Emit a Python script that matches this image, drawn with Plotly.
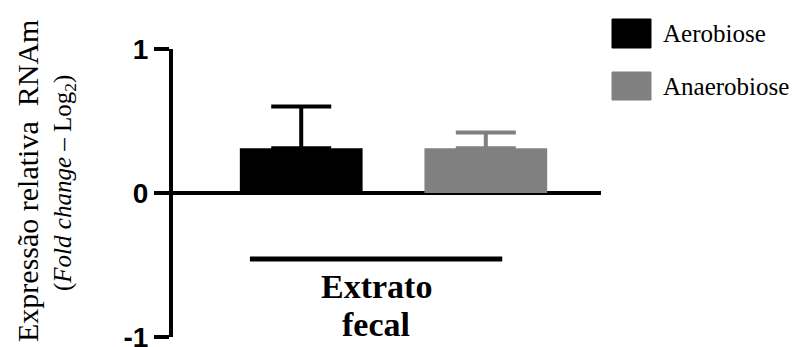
import plotly.graph_objects as go

# Relative mRNA expression (log2 fold change) in fecal extract
group_label = "Extrato fecal"
conditions = ["Aerobiose", "Anaerobiose"]
means = [0.31, 0.31]
errors_up = [0.29, 0.11]
colors = ["#000000", "#808080"]
y_ticks = [-1, 0, 1]

W, H = 794, 347
SERIF = "Times New Roman"
SANS = "Arial"

# bar slots along the numeric x axis
slots = [1, 2]
bar_width = 0.665

fig = go.Figure()
for slot, name, m, e, c in zip(slots, conditions, means, errors_up, colors):
    fig.add_trace(go.Bar(
        x=[slot], y=[m], name=name, width=bar_width,
        marker=dict(color=c, line=dict(width=0)),
        error_y=dict(type="data", symmetric=False, array=[e], arrayminus=[0],
                     color=c, thickness=4, width=30),
        showlegend=False,
    ))

def px_x(p):
    return p / W

def px_y(p):
    return 1 - p / H

fig.update_layout(
    width=W, height=H,
    margin=dict(l=0, r=0, t=0, b=0, autoexpand=False),
    paper_bgcolor="white", plot_bgcolor="white",
    showlegend=False,
    xaxis=dict(domain=[px_x(173), px_x(601)], range=[0.3054, 2.624],
               showgrid=False, zeroline=False, showticklabels=False,
               ticks="", showline=False, fixedrange=True, automargin=False),
    yaxis=dict(domain=[px_y(337), px_y(49)], range=[-1, 1],
               showgrid=False, zeroline=True, zerolinecolor="black", zerolinewidth=4,
               showline=True, linecolor="black", linewidth=4,
               ticks="outside", ticklen=15, tickwidth=4, tickcolor="black",
               tickvals=y_ticks, ticktext=[f"<b>{v}</b>" for v in y_ticks],
               tickfont=dict(family=SANS, size=28, color="black"),
               ticklabeloverflow="allow",
               fixedrange=True, automargin=False),
)

# bracket under the group and its two-line label
left_edge = slots[0] - 0.278
right_edge = slots[1] + 0.089
fig.add_shape(type="line", xref="x", yref="y",
              x0=left_edge, x1=right_edge, y0=-0.458, y1=-0.458,
              line=dict(color="black", width=5))
for word, yc in zip(group_label.split(), [286, 324]):
    fig.add_annotation(x=(left_edge + right_edge) / 2, xref="x", y=px_y(yc), yref="paper",
                       text="<b>" + word + "</b>", showarrow=False,
                       xanchor="center", yanchor="middle",
                       font=dict(family=SERIF, size=34, color="black"))

# y-axis title, two lines
fig.add_annotation(x=px_x(27), y=px_y(181), xref="paper", yref="paper",
                   text="Expressão relativa\u00a0\u00a0RNAm", textangle=-90, showarrow=False,
                   xanchor="center", yanchor="middle",
                   font=dict(family=SERIF, size=30, color="black"))
fig.add_annotation(x=px_x(64), y=px_y(183), xref="paper", yref="paper",
                   text="(<i>Fold change</i> – Log<sub>2</sub>)", textangle=-90, showarrow=False,
                   xanchor="center", yanchor="middle",
                   font=dict(family=SERIF, size=25, color="black"))

# legend drawn as swatches with labels
legend_rows = [(19, 48), (72, 100)]
for (top, bottom), name, c in zip(legend_rows, conditions, colors):
    fig.add_shape(type="rect", xref="paper", yref="paper",
                  x0=px_x(612), x1=px_x(651), y0=px_y(bottom), y1=px_y(top),
                  fillcolor=c, line=dict(color=c, width=1))
    fig.add_annotation(x=px_x(661), y=px_y((top + bottom) / 2), xref="paper", yref="paper",
                       text=name, showarrow=False, xanchor="left", yanchor="middle",
                       font=dict(family=SERIF, size=25, color="black"))

fig.write_html("out.html")
